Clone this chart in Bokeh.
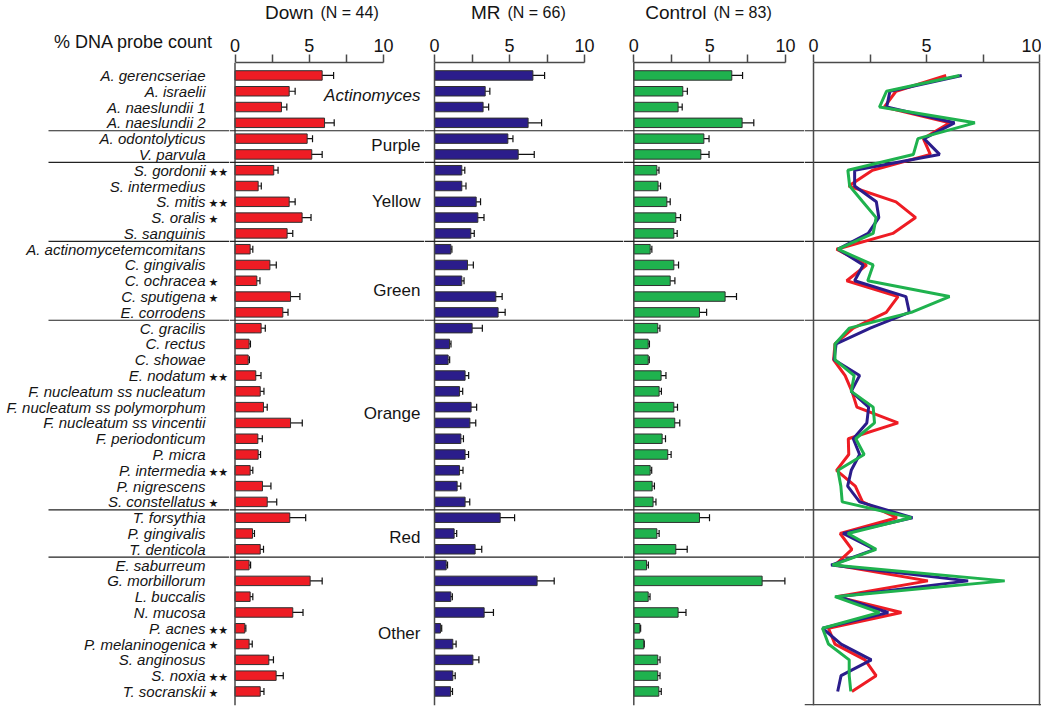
import numpy as np
from bokeh.plotting import figure
from bokeh.layouts import row, column
from bokeh.models import (ColumnDataSource, Range1d, Span, Whisker, TeeHead,
                          FixedTicker, LinearAxis)
from bokeh.core.properties import value
from bokeh.embed import file_html
from bokeh.resources import INLINE

# ---------------- data ----------------
species = [
    "A. gerencseriae", "A. israelii", "A. naeslundii 1", "A. naeslundii 2",
    "A. odontolyticus", "V. parvula",
    "S. gordonii", "S. intermedius", "S. mitis", "S. oralis", "S. sanguinis",
    "A. actinomycetemcomitans", "C. gingivalis", "C. ochracea", "C. sputigena", "E. corrodens",
    "C. gracilis", "C. rectus", "C. showae", "E. nodatum", "F. nucleatum ss nucleatum",
    "F. nucleatum ss polymorphum", "F. nucleatum ss vincentii", "F. periodonticum", "P. micra",
    "P. intermedia", "P. nigrescens", "S. constellatus",
    "T. forsythia", "P. gingivalis", "T. denticola",
    "E. saburreum", "G. morbillorum", "L. buccalis", "N. mucosa", "P. acnes",
    "P. melaninogenica", "S. anginosus", "S. noxia", "T. socranskii",
]
stars = [
    "", "", "", "",
    "", "",
    "★★", "", "★★", "★", "",
    "", "", "★", "★", "",
    "", "", "", "★★", "",
    "", "", "", "",
    "★★", "", "★",
    "", "", "",
    "", "", "", "", "★★",
    "★", "", "★★", "★",
]
group_names = ["Actinomyces", "Purple", "Yellow", "Green", "Orange", "Red", "Other"]
group_sizes = [4, 2, 5, 5, 12, 3, 9]

down = [5.87, 3.65, 3.13, 6.03, 4.86, 5.17, 2.61, 1.56, 3.65, 4.52, 3.51, 1.02, 2.35, 1.47,
        3.74, 3.22, 1.76, 0.95, 0.89, 1.40, 1.70, 1.92, 3.74, 1.54, 1.56, 1.02, 1.85, 2.17,
        3.69, 1.18, 1.70, 0.95, 5.06, 1.02, 3.89, 0.66, 0.95, 2.28, 2.77, 1.70]
down_err = [0.77, 0.40, 0.36, 0.65, 0.36, 0.70, 0.29, 0.21, 0.40, 0.60, 0.38, 0.18, 0.43, 0.21,
            0.63, 0.35, 0.28, 0.09, 0.08, 0.35, 0.25, 0.25, 0.79, 0.30, 0.16, 0.18, 0.57, 0.64,
            1.07, 0.13, 0.22, 0.10, 0.81, 0.18, 0.69, 0.07, 0.21, 0.31, 0.48, 0.25]
mr = [6.56, 3.38, 3.24, 6.24, 4.89, 5.58, 1.82, 1.82, 2.78, 2.89, 2.42, 1.09, 2.20, 1.82,
      4.09, 4.24, 2.51, 1.00, 0.91, 2.04, 1.67, 2.44, 2.36, 1.76, 2.04, 1.67, 1.51, 2.04,
      4.38, 1.31, 2.71, 0.78, 6.84, 1.09, 3.31, 0.40, 1.22, 2.56, 1.22, 1.07]
mr_err = [0.78, 0.31, 0.37, 0.90, 0.34, 1.07, 0.20, 0.28, 0.29, 0.41, 0.23, 0.07, 0.39, 0.15,
          0.42, 0.47, 0.68, 0.10, 0.10, 0.24, 0.21, 0.37, 0.39, 0.17, 0.23, 0.23, 0.24, 0.31,
          0.96, 0.17, 0.44, 0.09, 1.14, 0.10, 0.62, 0.08, 0.22, 0.40, 0.16, 0.13]
ctrl = [6.46, 3.23, 2.92, 7.14, 4.62, 4.42, 1.52, 1.60, 2.18, 2.77, 2.64, 1.08, 2.64, 2.40,
        6.02, 4.33, 1.58, 0.95, 0.95, 1.80, 1.67, 2.64, 2.70, 1.87, 2.24, 1.08, 1.21, 1.27,
        4.33, 1.52, 2.77, 0.84, 8.46, 0.95, 2.92, 0.40, 0.66, 1.58, 1.58, 1.65]
ctrl_err = [0.71, 0.30, 0.27, 0.77, 0.34, 0.54, 0.14, 0.16, 0.22, 0.31, 0.22, 0.11, 0.31, 0.31,
            0.75, 0.47, 0.14, 0.08, 0.07, 0.32, 0.15, 0.24, 0.33, 0.22, 0.22, 0.10, 0.15, 0.19,
            0.66, 0.15, 0.75, 0.12, 1.50, 0.12, 0.52, 0.05, 0.03, 0.15, 0.15, 0.16]

panel_titles = ["Down", "MR", "Control"]
panel_ns = ["(N = 44)", "(N = 66)", "(N = 83)"]

# ---------------- style ----------------
FONT = "Liberation Sans"
RED, NAVY, GREEN = "#ee1c24", "#2b1d8b", "#1fb24e"
AXC = "#4a4a4a"
TXT = "#141414"

HEADER_H = 26
TOP_B = 36
FRAME_H = 643
BOT_B = 2
H = TOP_B + FRAME_H + BOT_B
Y_BOTTOM, Y_TOP = 39.89, -0.82
TITLE_BASE_Y = 14.5

ypos = list(range(len(species)))
cum = np.cumsum(group_sizes)
sep_y = [float(c) - 0.5 for c in cum[:-1]]
group_label_y = [1.3, 4.45, 8.0, 13.6, 21.4, 29.25, 35.3]
group_label_style = ["italic"] + ["normal"] * 6


def base_fig(width, height, x0, x1, y0, y1, top=0, bottom=0):
    p = figure(width=width, height=height, x_range=Range1d(x0, x1),
               y_range=Range1d(y0, y1), output_backend="svg", title=None,
               toolbar_location=None, x_axis_location=None, y_axis_location=None,
               min_border_left=0, min_border_right=0, min_border_top=top,
               min_border_bottom=bottom)
    p.outline_line_color = None
    p.xgrid.visible = False
    p.ygrid.visible = False
    return p


def panel_fig(width, x0, x1):
    return base_fig(width, H, x0, x1, Y_BOTTOM, Y_TOP, TOP_B, BOT_B)


def top_axis(p, ticks, minor, bounds=None, overrides=None, visible_lines=True):
    ax = LinearAxis(ticker=FixedTicker(ticks=ticks, minor_ticks=minor))
    if bounds is not None:
        ax.bounds = bounds
    ax.major_tick_out = 8
    ax.major_tick_in = 0
    ax.minor_tick_out = 8
    ax.minor_tick_in = 0
    c = AXC if visible_lines else None
    ax.axis_line_color = c
    ax.major_tick_line_color = c
    ax.minor_tick_line_color = c
    ax.axis_line_width = 1.5
    ax.major_tick_line_width = 1.5
    ax.minor_tick_line_width = 1.5
    ax.major_label_text_font = FONT
    ax.major_label_text_font_size = "18px"
    ax.major_label_text_color = TXT
    ax.major_label_standoff = 3
    if overrides:
        ax.major_label_overrides = overrides
    p.add_layout(ax, "above")
    return ax


def bar_panel(width, zero_px, unit_px, frame_left, vals, errs, color):
    x0 = (frame_left - zero_px) / unit_px
    x1 = (frame_left + width - zero_px) / unit_px
    p = panel_fig(width, x0, x1)
    top_axis(p, [0, 5, 10], [2.5, 7.5], bounds=(0, 10))
    src = ColumnDataSource(dict(
        y=ypos, v=vals,
        lo=[v - e for v, e in zip(vals, errs)],
        hi=[v + e for v, e in zip(vals, errs)]))
    p.hbar(y="y", left=0, right="v", height=0.6, fill_color=color,
           line_color="#303030", line_width=1, source=src)
    p.add_layout(Whisker(source=src, base="y", lower="lo", upper="hi",
                         dimension="width", line_color="#111111", line_width=1.2,
                         lower_head=TeeHead(size=7, line_color="#111111", line_width=1.2),
                         upper_head=TeeHead(size=7, line_color="#111111", line_width=1.2)))
    p.add_layout(Span(location=0, dimension="height", line_color=AXC, line_width=1.5))
    for s in sep_y:
        p.add_layout(Span(location=s, dimension="width", line_color="#222222", line_width=1.2))
    return p


# ---------------- header (panel titles) ----------------
TOTAL_W = 1041
hdr = base_fig(TOTAL_W, HEADER_H, 0, TOTAL_W, 0, HEADER_H)
title_right = [313, 500, 706]
hdr.text(x=title_right, y=[TITLE_BASE_Y] * 3, text=panel_titles, text_align="right",
         text_baseline="alphabetic", text_font=value(FONT), text_font_size="19px",
         text_color=TXT)
hdr.text(x=[t + 7 for t in title_right], y=[TITLE_BASE_Y] * 3, text=panel_ns,
         text_align="left", text_baseline="alphabetic", text_font=value(FONT),
         text_font_size="16px", text_color=TXT)

# ---------------- label column ----------------
LAB_W = 229
lab = panel_fig(LAB_W, 0, LAB_W)
top_axis(lab, [133], [], overrides={133: "% DNA probe count"}, visible_lines=False)
lab.text(x=[205] * len(species), y=ypos, text=species, text_align="right",
         text_baseline="middle", text_font=value(FONT), text_font_size="15px",
         text_font_style="italic", text_color=TXT)
star_y = [y + 0.12 for y in ypos]
lab.text(x=[208] * len(species), y=star_y, text=stars, text_align="left",
         text_baseline="middle", text_font=value("DejaVu Sans"), text_font_size="11px",
         text_color=TXT)
lab.segment(x0=[48] * len(sep_y), x1=[LAB_W] * len(sep_y), y0=sep_y, y1=sep_y,
            line_color="#222222", line_width=1.2)

# ---------------- bar panels ----------------
p_down = bar_panel(424 - LAB_W, 234.5, 14.85, LAB_W, down, down_err, RED)
p_mr = bar_panel(199, 434.0, 15.0, 424, mr, mr_err, NAVY)
p_ctrl = bar_panel(181, 633.3, 15.17, 623, ctrl, ctrl_err, GREEN)

gsrc = ColumnDataSource(dict(x=[12.49] * len(group_names), y=group_label_y,
                             t=group_names, s=group_label_style))
p_down.text(x="x", y="y", text="t", text_font_style="s", source=gsrc,
            text_align="right", text_baseline="middle", text_font=value(FONT),
            text_font_size="17px", text_color=TXT)

# ---------------- line panel ----------------
LW = TOTAL_W - 804
lx0 = (804 - 813) / 22.6
lx1 = (804 + LW - 813) / 22.6
p_line = panel_fig(LW, lx0, lx1)
top_axis(p_line, [0, 5, 10], [2.5, 7.5], bounds=(0, 10))
p_line.add_layout(Span(location=0, dimension="height", line_color=AXC, line_width=1.5))
p_line.add_layout(Span(location=10, dimension="height", line_color=AXC, line_width=1.5))
p_line.add_layout(Span(location=Y_BOTTOM - 0.05, dimension="width", line_color=AXC,
                       line_width=1.5))
for s in sep_y:
    p_line.segment(x0=[lx0], x1=[10], y0=[s], y1=[s], line_color="#222222", line_width=1.2)
p_line.line(x=down, y=ypos, line_color=RED, line_width=3)
p_line.line(x=mr, y=ypos, line_color=NAVY, line_width=3)
p_line.line(x=ctrl, y=ypos, line_color=GREEN, line_width=3)

layout = column(hdr, row(lab, p_down, p_mr, p_ctrl, p_line, spacing=0), spacing=0)
open("out.html", "w").write(file_html(layout, INLINE))
